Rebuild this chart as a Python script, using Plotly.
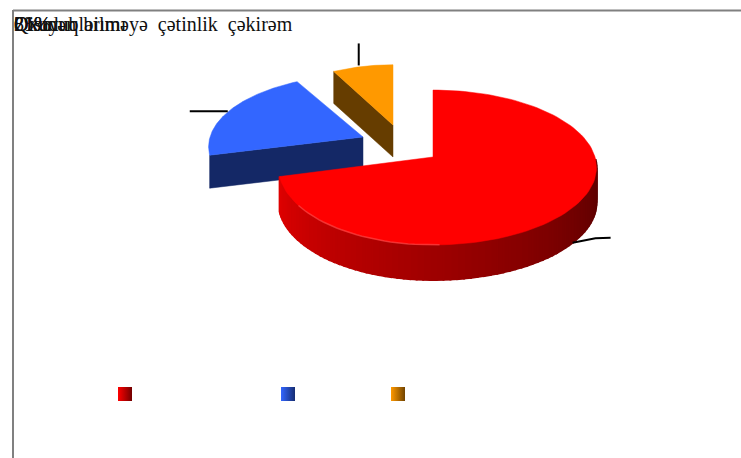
import math
import plotly.graph_objects as go

categories = ["Oxuyub bilməyə\u00a0\u00a0çətinlik\u00a0\u00a0çəkirəm", "Qismən", "Oxuduqlarımı"]
values = [71.0, 21.0, 8.0]
value_labels = ["71%", "21%", "8%"]
colors = ["#ff0000", "#3366ff", "#ff9900"]

# Drawing geometry of the tilted pie (pixels in a 741x458 plot area)
apex = [(433, 157), (363, 137), (393, 125)]
scale_x = [1.0, 1.0, 0.9]
scale_y = [1.0, 0.93, 0.9]
depth = [35, 33, 32]
W_RIGHT, W_LEFT, H, K = 162, 153, 76, 0.1355
legend_x = [125, 288, 398]
LEGEND_Y = 394


def project(i, theta):
    X, Y = math.sin(theta), math.cos(theta)
    f = 1 / (1 + K * Y)
    w = W_RIGHT if X > 0 else W_LEFT
    return apex[i][0] + w * X * f * scale_x[i], apex[i][1] - H * Y * f * scale_y[i]


def mix(c, t):
    r, g, b = int(c[1:3], 16), int(c[3:5], 16), int(c[5:7], 16)
    return f"rgb({int(r * t)},{int(g * t)},{int(b * t)})"


def poly(xs, ys, color, lw=0.5):
    return go.Scatter(x=xs, y=ys, mode="lines", fill="toself", fillcolor=color,
                      line=dict(color=color, width=lw), hoverinfo="skip", showlegend=False)


total = sum(values)
spans = []
a = 0.0
for v in values:
    b = a + v / total * 2 * math.pi
    spans.append((a, b))
    a = b

fig = go.Figure()
wall_tone = [None, 0.4, 0.4]
for i in (2, 1, 0):
    a, b = spans[i]
    n = 120
    ts = [a + (b - a) * k / n for k in range(n + 1)]
    pts = [project(i, t) for t in ts]
    ax, ay = apex[i]
    d = depth[i]
    if i == 0:
        # curved outer wall with a left-to-right shading
        first = next(k for k, t in enumerate(ts) if t > math.pi / 2)
        for k in range(first, n):
            (x0, y0), (x1, y1) = pts[k], pts[k + 1]
            u = (k - first) / (n - first)
            tone = 0.33 + 0.55 * u
            fig.add_trace(poly([x0, x1, x1, x0, x0], [y0, y1, y1 + d, y0 + d, y0], mix(colors[i], tone), 2))
    else:
        # flat cut face towards the viewer
        ex, ey = pts[0]
        fig.add_trace(poly([ax, ex, ex, ax, ax], [ay, ey, ey + d, ay + d, ay], mix(colors[i], wall_tone[i])))
    xs = [ax] + [p[0] for p in pts] + [ax]
    ys = [ay] + [p[1] for p in pts] + [ay]
    fig.add_trace(poly(xs, ys, colors[i]))

# soft highlight on the front-left rim of the big slice
rim = [project(0, math.radians(t)) for t in range(178, 236, 2)]
fig.add_trace(go.Scatter(x=[p[0] for p in rim], y=[p[1] for p in rim], mode="lines",
                         line=dict(color="rgba(255,90,90,0.55)", width=1.5),
                         hoverinfo="skip", showlegend=False))

# leader lines start from each slice's mid angle
leader = [(38, -5, 0, 35), (-38, 0, -2, 1), (0, -22, -4, -1)]
for i, (dx, dy, ox, oy) in enumerate(leader):
    mx, my = project(i, sum(spans[i]) / 2)
    mx += ox
    my += oy
    if i == 0:
        xs = [mx, mx + dx * 0.6, mx + dx]
        ys = [my, my + dy * 0.9, my + dy]
    else:
        xs, ys = [mx, mx + dx], [my, my + dy]
    fig.add_trace(go.Scatter(x=xs, y=ys, mode="lines", line=dict(color="black", width=2),
                             hoverinfo="skip", showlegend=False))

# legend keys
for i, c in enumerate(colors):
    fig.add_trace(go.Scatter(x=[legend_x[i]], y=[LEGEND_Y], mode="markers", name=categories[i],
                             marker=dict(symbol="square", size=14, color=c,
                                         gradient=dict(type="horizontal", color=mix(c, 0.45)),
                                         line=dict(width=0)),
                             showlegend=False))

# all labels pile up at the top-left corner in the reference
for t in categories + value_labels:
    fig.add_annotation(x=14, y=24, text=t, xanchor="left", yanchor="middle", showarrow=False,
                       xshift=-2, font=dict(family="Liberation Serif", size=20, color="#111111"))

fig.add_shape(type="line", x0=13, x1=741, y0=10.5, y1=10.5, line=dict(color="#808080", width=2))
fig.add_shape(type="line", x0=13, x1=13, y0=10, y1=458, line=dict(color="#808080", width=2))

fig.update_layout(width=741, height=458, margin=dict(l=0, r=0, t=0, b=0),
                  paper_bgcolor="white", plot_bgcolor="white", showlegend=False,
                  xaxis=dict(range=[0, 741], visible=False, fixedrange=True),
                  yaxis=dict(range=[458, 0], visible=False, fixedrange=True))
fig.write_html("out.html", config={"displayModeBar": False},
               post_script="document.body.style.margin='0';document.body.style.overflow='hidden';")
